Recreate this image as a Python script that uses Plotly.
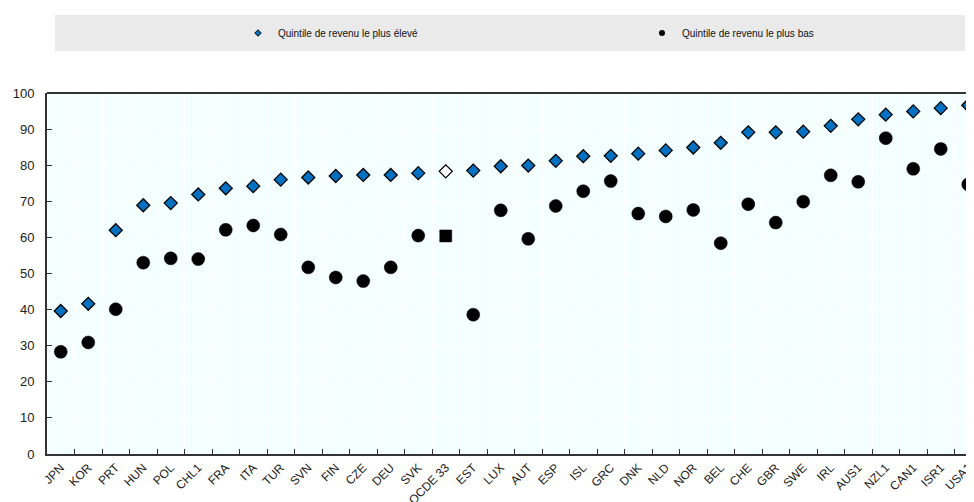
import plotly.graph_objects as go

categories = ["JPN", "KOR", "PRT", "HUN", "POL", "CHL1", "FRA", "ITA", "TUR", "SVN", "FIN", "CZE",
              "DEU", "SVK", "OCDE 33", "EST", "LUX", "AUT", "ESP", "ISL", "GRC", "DNK", "NLD", "NOR",
              "BEL", "CHE", "GBR", "SWE", "IRL", "AUS1", "NZL1", "CAN1", "ISR1", "USA1"]
high_quintile = [39.6, 41.6, 62.0, 68.9, 69.5, 71.9, 73.6, 74.2, 76.0, 76.6, 77.0, 77.3,
                 77.3, 77.8, 78.3, 78.5, 79.7, 79.9, 81.2, 82.5, 82.6, 83.2, 84.1, 84.9,
                 86.2, 89.1, 89.1, 89.3, 90.9, 92.7, 94.0, 94.9, 95.8, 96.6]
low_quintile = [28.3, 30.9, 40.1, 53.0, 54.2, 54.0, 62.1, 63.3, 60.8, 51.7, 48.9, 47.9,
                51.7, 60.5, 60.4, 38.6, 67.5, 59.6, 68.7, 72.8, 75.6, 66.6, 65.8, 67.6,
                58.4, 69.2, 64.1, 69.9, 77.2, 75.4, 87.5, 79.0, 84.5, 74.7]
y_ticks = [0, 10, 20, 30, 40, 50, 60, 70, 80, 90, 100]
name_high = "Quintile de revenu le plus élevé"
name_low = "Quintile de revenu le plus bas"
avg_label = "OCDE 33"

BLUE = "#0070C0"
FONT = "Liberation Sans, Arial, sans-serif"

high_fill = ["white" if c == avg_label else BLUE for c in categories]
low_symbol = ["square" if c == avg_label else "circle" for c in categories]
low_size = [12 if c == avg_label else 13 for c in categories]

fig = go.Figure()
fig.add_trace(go.Scatter(
    x=categories, y=high_quintile, mode="markers", showlegend=False,
    marker=dict(symbol="diamond", size=10, color=high_fill, opacity=1,
                line=dict(color="black", width=1.3)),
))
fig.add_trace(go.Scatter(
    x=categories, y=low_quintile, mode="markers", showlegend=False,
    marker=dict(symbol=low_symbol, size=low_size, color="black", opacity=1,
                line=dict(color="black", width=0.5)),
))
# legend-only entries with small symbols
fig.add_trace(go.Scatter(
    x=[None], y=[None], mode="markers", name=name_high,
    marker=dict(symbol="diamond", size=5, color=BLUE, line=dict(color="black", width=1)),
))
fig.add_trace(go.Scatter(
    x=[None], y=[None], mode="markers", name=name_low,
    marker=dict(symbol="circle", size=6, color="black"),
))

# page renders with an 8px body margin; figure coords are offset accordingly
L, T, B = 39, 85, 56
W, H = 974, 502
plot_w = W - L
plot_h = H - T - B

fig.update_layout(
    width=W, height=H,
    margin=dict(l=L, r=0, t=T, b=B, pad=0, autoexpand=False),
    paper_bgcolor="white",
    plot_bgcolor="#F4FFFF",
    font=dict(family=FONT, color="#222222", size=12),
    showlegend=True,
    legend=dict(
        orientation="h", xref="container", yref="container",
        x=230 / W, xanchor="left", y=1 - 25 / H, yanchor="middle",
        bgcolor="rgba(0,0,0,0)", borderwidth=0,
        entrywidth=359, entrywidthmode="pixels", itemwidth=30,
        font=dict(family="Liberation Sans Narrow, Arial Narrow, Liberation Sans, Arial", size=10, color="#111111"),
        itemclick=False, itemdoubleclick=False,
    ),
    shapes=[
        dict(type="rect", xref="paper", yref="paper",
             x0=(47 - L) / plot_w, x1=(957 - L) / plot_w,
             y0=(H - B - 43) / plot_h, y1=(H - B - 7) / plot_h,
             fillcolor="#EAEAEA", line=dict(width=0), layer="below"),
        dict(type="line", xref="paper", yref="paper", x0=0, x1=1, y0=1, y1=1,
             line=dict(color="#333333", width=2)),
    ],
    xaxis=dict(
        type="category", range=[-0.5, len(categories) - 0.5], automargin=False,
        tickson="boundaries", ticks="inside", ticklen=5, tickcolor="#333333", tickwidth=1.2,
        showgrid=True, gridcolor="white", gridwidth=1,
        showline=True, linecolor="#333333", linewidth=2,
        tickangle=-45, tickfont=dict(family=FONT, size=12, color="#222222"),
        zeroline=False,
    ),
    yaxis=dict(
        range=[0, 100], tickvals=y_ticks, ticktext=[str(v) for v in y_ticks], automargin=False,
        ticks="inside", ticklen=5, tickcolor="#333333", tickwidth=1.2,
        showgrid=True, gridcolor="white", gridwidth=1,
        showline=True, linecolor="#333333", linewidth=2,
        tickfont=dict(family=FONT, size=13, color="#222222"),
        ticklabelstandoff=8,
        zeroline=False,
    ),
)

fig.write_html("out.html")
